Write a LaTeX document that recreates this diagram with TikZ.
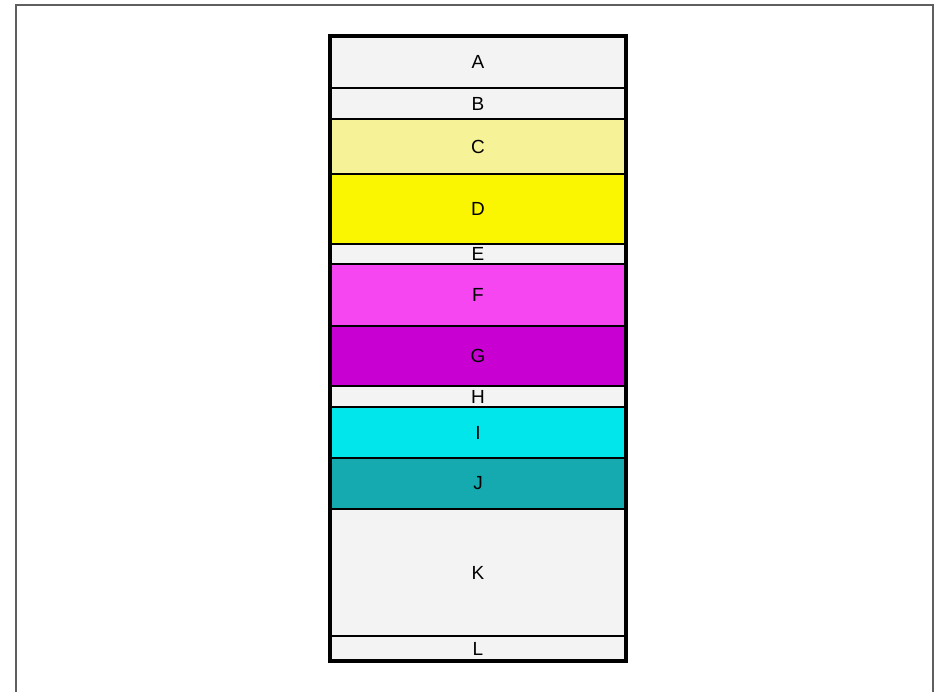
\documentclass[tikz,border=0pt]{standalone}
\usepackage{fontspec}
\setmainfont{Liberation Sans}
\usepackage{tikz}
\usetikzlibrary{positioning}
\definecolor{layergray}{RGB}{243,243,243}
\definecolor{paleyellow}{RGB}{246,242,152}
\definecolor{brightyellow}{RGB}{250,245,0}
\definecolor{lightmagenta}{RGB}{245,70,242}
\definecolor{darkmagenta}{RGB}{200,0,210}
\definecolor{brightcyan}{RGB}{0,230,235}
\definecolor{darkcyan}{RGB}{20,170,175}
\definecolor{framegray}{RGB}{95,95,95}

\tikzset{
    layer/.style={
        draw=black,
        line width=1.4pt,
        outer sep=0pt,
        inner sep=0pt,
        minimum width=7.4cm,
        minimum height=#1,
        font=\fontsize{13.5}{15}\selectfont
    }
}

\begin{document}
\begin{tikzpicture}
    \useasboundingbox (0,0) rectangle (23.575,-17.3);
    % outer frame, open at the bottom
    \draw[framegray, line width=1.4pt] (0.4,-17.3) -- (0.4,-0.125) -- (23.325,-0.125) -- (23.325,-17.3);

    % the stack of layers, top to bottom
    \node[layer=1.3cm, fill=layergray, anchor=north] (a) at (11.95,-0.9) {A};
    \node[layer=0.775cm, fill=layergray, below=0pt of a] (b) {B};
    \node[layer=1.375cm, fill=paleyellow, below=0pt of b] (c) {C};
    \node[layer=1.75cm, fill=brightyellow, below=0pt of c] (d) {D};
    \node[layer=0.5cm, fill=layergray, below=0pt of d] (e) {E};
    \node[layer=1.55cm, fill=lightmagenta, below=0pt of e] (f) {F};
    \node[layer=1.5cm, fill=darkmagenta, below=0pt of f] (g) {G};
    \node[layer=0.525cm, fill=layergray, below=0pt of g] (h) {H};
    \node[layer=1.275cm, fill=brightcyan, below=0pt of h] (i) {I};
    \node[layer=1.275cm, fill=darkcyan, below=0pt of i] (j) {J};
    \node[layer=3.175cm, fill=layergray, below=0pt of j] (k) {K};
    \node[layer=0.625cm, fill=layergray, below=0pt of k] (l) {L};

    % heavier border round the whole stack
    \draw[line width=2.2pt] (a.north west) rectangle (l.south east);
\end{tikzpicture}
\end{document}
